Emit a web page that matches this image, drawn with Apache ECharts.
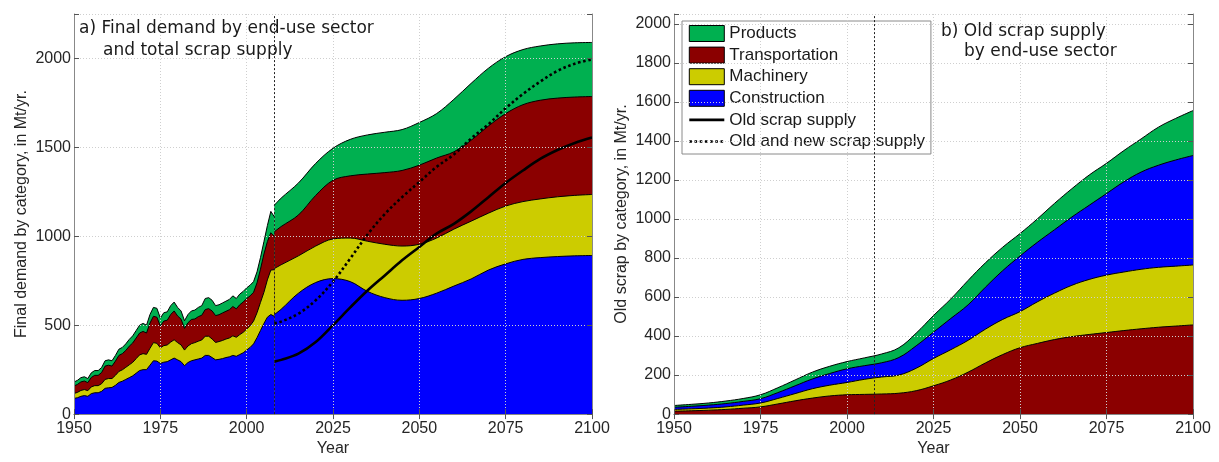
<!DOCTYPE html>
<html>
<head>
<meta charset="utf-8">
<script src="https://cdn.jsdelivr.net/npm/echarts@6/dist/echarts.min.js"></script>
<style>
  html, body { margin: 0; padding: 0; background: #fff; }
  #chart { width: 1219px; height: 462px; }
</style>
</head>
<body>
<div id="chart"></div>
<script>
// ---------- Panel a: final demand by end-use sector (Mt/yr) ----------
// Historical record, annual
const histYears = [
  1950, 1951, 1952, 1953, 1954, 1955, 1956, 1957, 1958, 1959,
  1960, 1961, 1962, 1963, 1964, 1965, 1966, 1967, 1968, 1969,
  1970, 1971, 1972, 1973, 1974, 1975, 1976, 1977, 1978, 1979,
  1980, 1981, 1982, 1983, 1984, 1985, 1986, 1987, 1988, 1989,
  1990, 1991, 1992, 1993, 1994, 1995, 1996, 1997, 1998, 1999,
  2000, 2001, 2002, 2003, 2004, 2005, 2006, 2007, 2008
];
const histConstruction = [
  88, 92, 100, 104, 100, 115, 120, 120, 128, 145,
  148, 150, 162, 178, 185, 195, 205, 215, 230, 245,
  250, 250, 275, 300, 298, 285, 292, 295, 305, 315,
  305, 295, 272, 290, 300, 305, 310, 315, 330, 330,
  318, 305, 308, 312, 318, 322, 330, 325, 335, 345,
  360, 375, 395, 430, 470, 510, 545, 560, 550
];
const histMachinery = [
  28, 30, 33, 34, 32, 38, 40, 40, 43, 50,
  52, 50, 56, 62, 64, 68, 72, 76, 82, 88,
  90, 86, 95, 102, 100, 88, 93, 94, 100, 103,
  97, 94, 88, 93, 96, 97, 100, 102, 108, 108,
  104, 98, 100, 102, 104, 106, 110, 107, 112, 115,
  118, 122, 128, 140, 158, 175, 210, 250, 262
];
const histTransportation = [
  42, 45, 48, 48, 45, 53, 58, 58, 63, 75,
  75, 70, 80, 90, 91, 95, 105, 109, 116, 123,
  125, 120, 142, 148, 147, 122, 138, 139, 155, 162,
  150, 145, 122, 131, 136, 133, 138, 139, 150, 155,
  158, 151, 151, 155, 156, 159, 165, 160, 168, 170,
  172, 168, 162, 168, 187, 215, 215, 210, 188
];
const histProducts = [
  22, 23, 24, 24, 23, 26, 27, 27, 28, 30,
  30, 30, 32, 35, 35, 37, 38, 40, 42, 44,
  45, 44, 48, 50, 50, 45, 47, 47, 50, 50,
  48, 46, 43, 46, 48, 50, 52, 54, 62, 62,
  60, 56, 56, 56, 57, 58, 60, 58, 60, 60,
  60, 60, 60, 62, 65, 70, 90, 120, 110
];

// Scenario, 2008 onwards
const futYears = [2008, 2010, 2015, 2020, 2025, 2030, 2035, 2040, 2045, 2050,
                  2055, 2060, 2065, 2070, 2075, 2080, 2085, 2090, 2095, 2100];
const futConstruction   = [560, 590, 680, 740, 762, 745, 690, 655, 640, 650,
                           680, 720, 760, 810, 845, 870, 880, 886, 890, 892];
const futMachinery      = [258, 250, 210, 205, 223, 245, 282, 300, 305, 305,
                           310, 320, 325, 320, 325, 325, 330, 336, 340, 343];
const futTransportation = [207, 215, 230, 285, 330, 350, 378, 403, 425, 445,
                           450, 435, 455, 490, 520, 545, 555, 555, 553, 551];
const futProducts       = [150, 160, 180, 180, 180, 205, 220, 227, 230, 240,
                           250, 295, 320, 325, 320, 310, 305, 305, 305, 304];
const oldScrap          = [295, 305, 340, 405, 500, 600, 695, 780, 865, 940,
                           1015, 1070, 1140, 1220, 1300, 1370, 1435, 1485, 1525, 1555];
const oldNewScrap       = [510, 520, 565, 640, 745, 875, 1010, 1125, 1220, 1305,
                           1390, 1460, 1550, 1630, 1720, 1800, 1870, 1930, 1970, 1995];

// ---------- Panel b: old scrap supply by end-use sector (Mt/yr) ----------
const scrapYears = [1950, 1955, 1960, 1965, 1970, 1975, 1980, 1985, 1990, 1995,
                    2000, 2005, 2010, 2015, 2020, 2025, 2030, 2035, 2040, 2045,
                    2050, 2055, 2060, 2065, 2070, 2075, 2080, 2085, 2090, 2095, 2100];
const scrapTransportation = [15, 17, 20, 24, 30, 37, 52, 68, 82, 93,
                             99, 101, 103, 107, 120, 145, 175, 215, 262, 305,
                             340, 362, 382, 397, 408, 418, 428, 437, 445, 451, 457];
const scrapMachinery      = [9, 10, 11, 13, 16, 20, 28, 37, 48, 55,
                             63, 77, 87, 93, 115, 140, 155, 163, 173, 180,
                             185, 213, 238, 263, 282, 294, 300, 305, 307, 307, 307];
const scrapConstruction   = [11, 13, 15, 17, 19, 22, 30, 40, 50, 60,
                             70, 70, 73, 90, 115, 135, 160, 182, 215, 250,
                             285, 305, 325, 350, 380, 418, 462, 498, 523, 544, 561];
const scrapProducts       = [9, 10, 11, 13, 15, 20, 25, 30, 35, 37,
                             37, 40, 45, 50, 65, 85, 100, 125, 125, 120,
                             115, 120, 135, 145, 155, 155, 160, 170, 195, 213, 230];

// Axis ticks
const xTicks = { min: 1950, max: 2100, interval: 25 };
const yTicksA = { min: 0, max: 2250, interval: 500 };
const yTicksB = { min: 0, max: 2050, interval: 200 };
const markYear = 2008;

const COLORS = {
  Products: '#00B050',
  Transportation: '#8B0000',
  Machinery: '#CCCC00',
  Construction: '#0000FF'
};
const TICK_FONT = '"Liberation Sans", Arial, sans-serif';
const TITLE_FONT = '"DejaVu Sans", Verdana, sans-serif';

const pairs = (xs, ys) => xs.map((x, i) => [x, ys[i]]);

// Running totals of the layers, bottom layer first
function cumulate(layers) {
  let acc = layers[0].map(() => 0);
  return layers.map(l => (acc = acc.map((a, i) => a + l[i])));
}

// One filled band per layer; each band is filled down to zero and the
// bands are emitted top layer first so the lower ones paint over them.
function stackedBands(names, xs, layers, axis, smooth) {
  const tops = cumulate(layers);
  const out = [];
  for (let k = names.length - 1; k >= 0; k--) {
    const name = names[k];
    out.push({
      type: 'line', name, xAxisIndex: axis, yAxisIndex: axis,
      data: pairs(xs, tops[k]), smooth, symbol: 'none', showSymbol: false,
      color: COLORS[name],
      itemStyle: { color: COLORS[name] },
      lineStyle: { color: '#000', width: 1 },
      areaStyle: { color: COLORS[name], opacity: 1, origin: 'start' },
      emphasis: { disabled: true },
      z: 2
    });
  }
  return out;
}

function yearMark(axis) {
  return {
    type: 'line', name: 'year-mark-' + axis, xAxisIndex: axis, yAxisIndex: axis,
    data: [], symbol: 'none',
    markLine: {
      silent: true, symbol: 'none', label: { show: false },
      lineStyle: { color: '#222', type: [2, 2], width: 1 },
      data: [{ xAxis: markYear }],
      z: 6
    }
  };
}

const gridLine = { show: true, lineStyle: { color: '#cfcfcf', type: [1, 2], width: 1 } };
const frameLine = { show: true, lineStyle: { color: '#888', width: 1 } };
const innerTick = { show: true, inside: true, length: 5, lineStyle: { color: '#555' } };

function bottomX(gridIndex) {
  return {
    type: 'value', gridIndex, ...xTicks, position: 'bottom', z: 5,
    name: 'Year', nameLocation: 'middle', nameGap: 23,
    nameTextStyle: { fontFamily: TICK_FONT, fontSize: 16, color: '#262626' },
    axisLine: frameLine, axisTick: innerTick,
    axisLabel: { fontFamily: TICK_FONT, fontSize: 16, color: '#262626', margin: 6, formatter: v => String(v) },
    splitLine: gridLine
  };
}
function topX(gridIndex) {
  return {
    type: 'value', gridIndex, ...xTicks, position: 'top', z: 5,
    axisLine: frameLine, axisTick: innerTick,
    axisLabel: { show: false }, splitLine: { show: false }
  };
}
function leftY(gridIndex, ticks, name) {
  return {
    type: 'value', gridIndex, ...ticks, position: 'left', z: 5,
    name, nameLocation: 'middle', nameGap: 44,
    nameTextStyle: { fontFamily: TICK_FONT, fontSize: 16, color: '#262626' },
    axisLine: frameLine, axisTick: innerTick,
    axisLabel: {
      fontFamily: TICK_FONT, fontSize: 16, color: '#262626', margin: 3,
      formatter: v => (v % ticks.interval === 0 ? String(v) : '')
    },
    splitLine: gridLine
  };
}
function rightY(gridIndex, ticks) {
  return {
    type: 'value', gridIndex, ...ticks, position: 'right', z: 5,
    axisLine: frameLine, axisTick: innerTick,
    axisLabel: { show: false }, splitLine: { show: false }
  };
}

const legendFill = name => ({
  name, icon: 'rect',
  itemStyle: { color: COLORS[name], borderColor: '#000', borderWidth: 1 }
});
const legendLine = (name, type) => ({
  name,
  itemStyle: { opacity: 0 },
  lineStyle: { color: '#000', width: 2.6, type }
});

const sectorsA = ['Construction', 'Machinery', 'Transportation', 'Products'];
const sectorsB = ['Transportation', 'Machinery', 'Construction', 'Products'];

const option = {
  animation: false,
  backgroundColor: '#fff',
  grid: [
    { left: 74, top: 14, width: 518, height: 409, show: false },
    { left: 674, top: 14, width: 519, height: 409, show: false }
  ],
  xAxis: [bottomX(0), bottomX(1), topX(0), topX(1)],
  yAxis: [
    leftY(0, yTicksA, 'Final demand by category, in Mt/yr.'),
    leftY(1, yTicksB, 'Old scrap by category, in Mt/yr.'),
    rightY(0, yTicksA),
    rightY(1, yTicksB)
  ],
  legend: {
    orient: 'vertical', left: 682, top: 21,
    padding: [4, 6, 4, 6],
    itemWidth: 35, itemHeight: 16, itemGap: 4.6,
    backgroundColor: '#fff', borderColor: '#8a8a8a', borderWidth: 1,
    textStyle: { fontFamily: TICK_FONT, fontSize: 17, color: '#1a1a1a', lineHeight: 16 },
    selectedMode: false,
    data: [
      legendFill('Products'),
      legendFill('Transportation'),
      legendFill('Machinery'),
      legendFill('Construction'),
      legendLine('Old scrap supply', 'solid'),
      legendLine('Old and new scrap supply', [2.6, 2.6])
    ]
  },
  graphic: [
    { type: 'text', x: 79, y: 29, z: 10,
      style: { text: 'a) Final demand by end-use sector', font: '17px ' + TITLE_FONT, fill: '#1a1a1a', verticalAlign: 'middle' } },
    { type: 'text', x: 103, y: 51, z: 10,
      style: { text: 'and total scrap supply', font: '17px ' + TITLE_FONT, fill: '#1a1a1a', verticalAlign: 'middle' } },
    { type: 'text', x: 941, y: 32, z: 10,
      style: { text: 'b) Old scrap supply', font: '17px ' + TITLE_FONT, fill: '#1a1a1a', verticalAlign: 'middle' } },
    { type: 'text', x: 964, y: 52, z: 10,
      style: { text: 'by end-use sector', font: '17px ' + TITLE_FONT, fill: '#1a1a1a', verticalAlign: 'middle' } }
  ],
  series: [
    // panel a, historical record
    ...stackedBands(sectorsA, histYears,
      [histConstruction, histMachinery, histTransportation, histProducts], 0, false),
    // panel a, scenario
    ...stackedBands(sectorsA, futYears,
      [futConstruction, futMachinery, futTransportation, futProducts], 0, 0.35),
    {
      type: 'line', name: 'Old scrap supply', xAxisIndex: 0, yAxisIndex: 0,
      data: pairs(futYears, oldScrap), smooth: 0.35, symbol: 'none',
      color: '#000', itemStyle: { color: '#000' },
      lineStyle: { color: '#000', width: 2.6 }, z: 4
    },
    {
      type: 'line', name: 'Old and new scrap supply', xAxisIndex: 0, yAxisIndex: 0,
      data: pairs(futYears, oldNewScrap), smooth: 0.35, symbol: 'none',
      color: '#000', itemStyle: { color: '#000' },
      lineStyle: { color: '#000', width: 2.6, type: [2.6, 2.6] }, z: 4
    },
    yearMark(0),
    // panel b
    ...stackedBands(sectorsB, scrapYears,
      [scrapTransportation, scrapMachinery, scrapConstruction, scrapProducts], 1, 0.4),
    yearMark(1)
  ]
};

const chart = echarts.init(document.getElementById('chart'), null, { renderer: 'canvas' });
chart.setOption(option);
</script>
</body>
</html>
